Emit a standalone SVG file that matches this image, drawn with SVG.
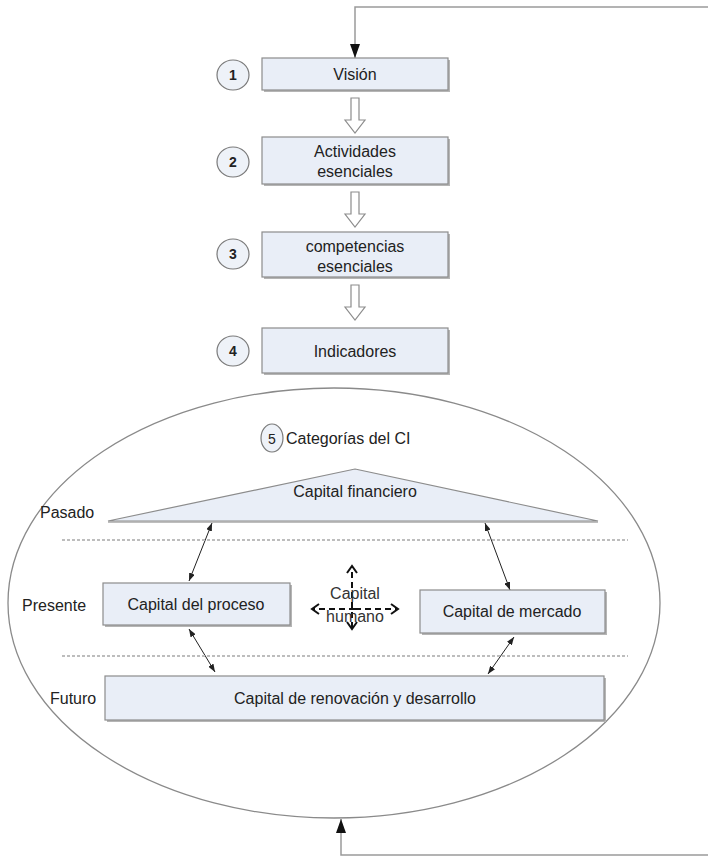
<svg xmlns="http://www.w3.org/2000/svg" width="708" height="857" viewBox="0 0 708 857">
<defs>
<style>
text{font-family:"Liberation Sans",Arial,sans-serif;fill:#222;font-size:16px}
.c{text-anchor:middle}
.box{fill:#e9eef7;stroke:#8c8c8c;stroke-width:1.2}
.shadow{fill:#b5b5b5}
.num{fill:#eef2f8;stroke:#7a7a7a;stroke-width:1.2}
.hollow{fill:#fff;stroke:#8c8c8c;stroke-width:1.2}
.sep{stroke:#bdbdbd;stroke-width:2;stroke-dasharray:3 2;fill:none}
.conn{stroke:#9a9a9a;stroke-width:1.5;fill:none}
.dbl{stroke:#222;stroke-width:1;fill:none;marker-start:url(#sm);marker-end:url(#sm)}
.hum{stroke:#111;stroke-width:2;stroke-dasharray:6 4;fill:none}
.n{font-weight:bold;font-size:14px}
</style>
<marker id="big" viewBox="0 0 14 10" refX="14" refY="5" markerWidth="14" markerHeight="10" markerUnits="userSpaceOnUse" orient="auto">
<path d="M0,0 L14,5 L0,10 z" fill="#111"/>
</marker>
<marker id="sm" viewBox="0 0 8 6" refX="8" refY="3" markerWidth="8" markerHeight="6" markerUnits="userSpaceOnUse" orient="auto-start-reverse">
<path d="M0,0 L8,3 L0,6 z" fill="#222"/>
</marker>
<marker id="chev" viewBox="0 0 10 12" refX="8" refY="6" markerWidth="10" markerHeight="12" markerUnits="userSpaceOnUse" orient="auto">
<path d="M1,1 L8,6 L1,11" fill="none" stroke="#111" stroke-width="2"/>
</marker>
</defs>

<g id="ellipse-node">
<ellipse cx="334" cy="603" rx="326" ry="215" fill="#fff" stroke="#8a8a8a" stroke-width="1.3"/>
</g>

<g id="connectors">
<polyline class="conn" points="730,7 355,7 355,58" marker-end="url(#big)"/>
<polyline class="conn" points="730,855 341,855 341,819" marker-end="url(#big)"/>
<path class="hollow" d="M351,98 h8 v22 h6 l-10,13 l-10,-13 h6 z"/>
<path class="hollow" d="M351,192 h8 v22 h6 l-10,13 l-10,-13 h6 z"/>
<path class="hollow" d="M351,285 h8 v22 h6 l-10,13 l-10,-13 h6 z"/>
<line class="dbl" x1="212" y1="523" x2="189" y2="581"/>
<line class="dbl" x1="485" y1="523" x2="510" y2="590"/>
<line class="dbl" x1="189" y1="629" x2="215" y2="672"/>
<line class="dbl" x1="514" y1="637" x2="488" y2="674"/>
</g>

<g id="n1">
<rect class="shadow" x="264" y="60" width="186" height="32"/>
<rect class="box" x="262" y="58" width="186" height="32"/>
<text class="c" x="355" y="80">Visión</text>
<ellipse class="num" cx="233" cy="75" rx="16" ry="15"/>
<text class="c n" x="233" y="80">1</text>
</g>

<g id="n2">
<rect class="shadow" x="264" y="139" width="186" height="47"/>
<rect class="box" x="262" y="137" width="186" height="47"/>
<text class="c" x="355" y="157">Actividades</text>
<text class="c" x="355" y="177">esenciales</text>
<ellipse class="num" cx="233" cy="162" rx="16" ry="15"/>
<text class="c n" x="233" y="167">2</text>
</g>

<g id="n3">
<rect class="shadow" x="264" y="234" width="186" height="45"/>
<rect class="box" x="262" y="232" width="186" height="45"/>
<text class="c" x="355" y="252">competencias</text>
<text class="c" x="355" y="272">esenciales</text>
<ellipse class="num" cx="233" cy="254" rx="16" ry="15"/>
<text class="c n" x="233" y="259">3</text>
</g>

<g id="n4">
<rect class="shadow" x="264" y="330" width="186" height="45"/>
<rect class="box" x="262" y="328" width="186" height="45"/>
<text class="c" x="355" y="357">Indicadores</text>
<ellipse class="num" cx="233" cy="351" rx="16" ry="15"/>
<text class="c n" x="233" y="356">4</text>
</g>

<g id="n5-title">
<ellipse class="num" cx="272" cy="438" rx="11" ry="14"/>
<text class="c" x="272" y="444" style="font-size:14px">5</text>
<text x="286" y="444">Categorías del CI</text>
</g>

<g id="separators">
<line class="sep" x1="62" y1="540" x2="628" y2="540"/>
<line class="sep" x1="62" y1="656" x2="628" y2="656"/>
</g>

<g id="capital-financiero">
<polygon points="355,469 598,521 108,521" fill="#e9eef7" stroke="#8c8c8c" stroke-width="1.2"/>
<line x1="108" y1="522" x2="598" y2="522" stroke="#a8a8a8" stroke-width="1.5"/>
<text class="c" x="355" y="497">Capital financiero</text>
<text x="40" y="518">Pasado</text>
</g>

<g id="capital-proceso">
<rect class="shadow" x="105" y="585" width="187" height="42"/>
<rect class="box" x="103" y="583" width="187" height="42"/>
<text class="c" x="196" y="610">Capital del proceso</text>
<text x="22" y="611">Presente</text>
</g>

<g id="capital-mercado">
<rect class="shadow" x="422" y="592" width="185" height="43"/>
<rect class="box" x="420" y="590" width="185" height="43"/>
<text class="c" x="512" y="617">Capital de mercado</text>
</g>

<g id="capital-humano">
<line class="hum" x1="352" y1="608" x2="352" y2="566" marker-end="url(#chev)"/>
<line class="hum" x1="352" y1="612" x2="352" y2="629" marker-end="url(#chev)"/>
<line class="hum" x1="355" y1="609" x2="312" y2="609" marker-end="url(#chev)"/>
<line class="hum" x1="355" y1="609" x2="398" y2="609" marker-end="url(#chev)"/>
<text class="c" x="355" y="599" style="fill:#333">Capital</text>
<text class="c" x="355" y="622" style="fill:#333">humano</text>
</g>

<g id="capital-renovacion">
<rect class="shadow" x="107" y="678" width="499" height="44"/>
<rect class="box" x="105" y="676" width="499" height="44"/>
<text class="c" x="355" y="704">Capital de renovación y desarrollo</text>
<text x="50" y="704">Futuro</text>
</g>
</svg>
